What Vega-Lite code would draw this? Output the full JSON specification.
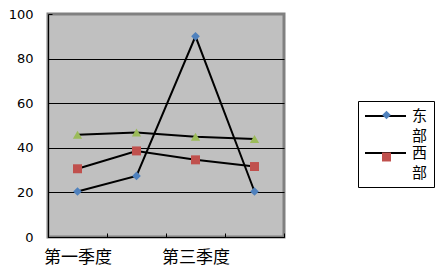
{
  "$schema": "https://vega.github.io/schema/vega-lite/v6.json",
  "autosize": "none",
  "width": 236,
  "height": 223,
  "padding": {"left": 48, "top": 14, "right": 155, "bottom": 38},
  "background": "white",
  "config": {
    "view": {"fill": "#C0C0C0", "stroke": "#808080", "strokeWidth": 3},
    "font": "Noto Sans CJK SC"
  },
  "data": {
    "values": [
      {"quarter": "第一季度", "series": "东部", "value": 20.4},
      {"quarter": "第二季度", "series": "东部", "value": 27.4},
      {"quarter": "第三季度", "series": "东部", "value": 90},
      {"quarter": "第四季度", "series": "东部", "value": 20.4},
      {"quarter": "第一季度", "series": "西部", "value": 30.6},
      {"quarter": "第二季度", "series": "西部", "value": 38.6},
      {"quarter": "第三季度", "series": "西部", "value": 34.6},
      {"quarter": "第四季度", "series": "西部", "value": 31.6},
      {"quarter": "第一季度", "series": "北部", "value": 45.9},
      {"quarter": "第二季度", "series": "北部", "value": 46.9},
      {"quarter": "第三季度", "series": "北部", "value": 45},
      {"quarter": "第四季度", "series": "北部", "value": 43.9}
    ]
  },
  "encoding": {
    "x": {
      "field": "quarter",
      "type": "ordinal",
      "sort": ["第一季度", "第二季度", "第三季度", "第四季度"],
      "scale": {"type": "band", "paddingInner": 0, "paddingOuter": 0},
      "axis": {
        "title": null,
        "labelAngle": 0,
        "labelExpr": "datum.value == '第一季度' || datum.value == '第三季度' ? datum.value : ''",
        "labelFont": "Noto Sans CJK SC",
        "labelFontSize": 17,
        "labelColor": "#000000",
        "labelPadding": 16,
        "domainColor": "#000000",
        "domainWidth": 1,
        "tickBand": "extent",
        "tickColor": "#000000",
        "tickSize": -4,
        "grid": false
      }
    },
    "y": {
      "field": "value",
      "type": "quantitative",
      "scale": {"domain": [0, 100], "nice": false},
      "axis": {
        "title": null,
        "values": [0, 20, 40, 60, 80, 100],
        "labelFont": "DejaVu Sans",
        "labelFontSize": 13,
        "labelColor": "#000000",
        "labelPadding": 19,
        "domainColor": "#000000",
        "domainWidth": 1,
        "tickColor": "#000000",
        "tickSize": -4,
        "grid": true,
        "gridColor": {"condition": {"test": "datum.value == 100", "value": "#808080"}, "value": "#000000"},
        "gridWidth": 1,
        "gridOpacity": 1
      }
    }
  },
  "layer": [
    {
      "mark": {"type": "line", "strokeWidth": 2},
      "encoding": {
        "stroke": {
          "field": "series",
          "type": "nominal",
          "scale": {"domain": ["东部", "北部", "西部"], "range": ["#000000", "#000000", "#000000"]},
          "legend": {
            "title": null,
            "values": ["东部", "西部"],
            "orient": "none",
            "legendX": 310,
            "legendY": 87,
            "padding": 6,
            "strokeColor": "#000000",
            "fillColor": "white",
            "symbolType": "M-1,-0.61H1",
            "symbolSize": 1681,
            "symbolStrokeWidth": 2,
            "labelFont": "Noto Sans CJK SC",
            "labelFontSize": 15,
            "labelColor": "#000000",
            "labelOffset": 5,
            "labelBaseline": "middle",
            "labelExpr": "[slice(datum.label, 0, 1), slice(datum.label, 1)]",
            "rowPadding": 0,
            "encode": {"labels": {"update": {"lineHeight": {"value": 20}, "dy": {"value": -12.5}}}}
          }
        }
      }
    },
    {
      "mark": {"type": "point", "filled": true, "opacity": 1, "strokeWidth": 0},
      "encoding": {
        "color": {
          "field": "series",
          "type": "nominal",
          "scale": {"domain": ["东部", "西部", "北部"], "range": ["#4F81BD", "#C0504D", "#9BBB59"]},
          "legend": {
            "title": null,
            "values": ["东部", "西部"],
            "orient": "none",
            "legendX": 331,
            "legendY": 93.5,
            "padding": 0,
            "symbolSize": 75,
            "symbolStrokeWidth": 0,
            "symbolOpacity": 1,
            "labelFontSize": 15,
            "labelExpr": "''",
            "rowPadding": 26
          }
        },
        "shape": {
          "field": "series",
          "type": "nominal",
          "scale": {"domain": ["东部", "西部", "北部"], "range": ["diamond", "square", "triangle-up"]},
          "legend": {
            "title": null,
            "values": ["东部", "西部"],
            "orient": "none",
            "legendX": 331,
            "legendY": 93.5
          }
        },
        "size": {
          "field": "series",
          "type": "nominal",
          "scale": {"domain": ["东部", "西部", "北部"], "range": [75, 86, 90]},
          "legend": null
        }
      }
    }
  ]
}
